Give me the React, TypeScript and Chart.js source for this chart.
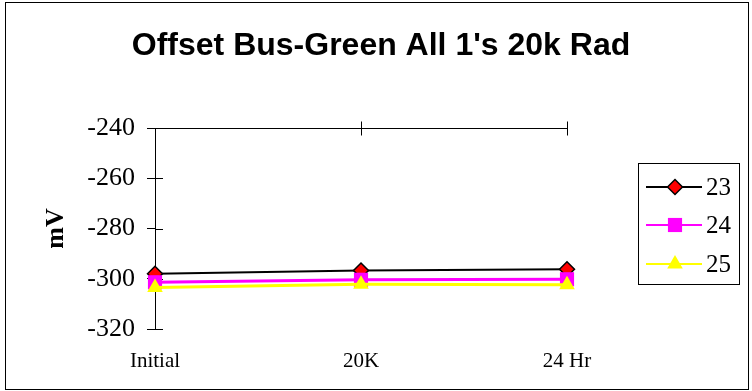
import { useEffect, useRef } from 'react';
import { Chart, registerables } from 'chart.js';
import { drawPoint } from 'chart.js/helpers';

Chart.register(...registerables);

const TITLE = "Offset Bus-Green All 1's 20k Rad";
const Y_TITLE = 'mV';
const CATEGORIES = ['Initial', '20K', '24 Hr'];
const SERIES_NAMES = ['23', '24', '25'];
const S23 = [-298.0, -296.7, -296.2];
const S24 = [-301.4, -300.4, -300.2];
const S25 = [-303.5, -302.2, -302.4];
const Y_MIN = -320;
const Y_MAX = -240;
const Y_STEP = 20;

const SERIF = '"Liberation Serif", "Times New Roman", serif';
const SANS = '"Liberation Sans", Arial, sans-serif';

const decor = {
  id: 'decor',
  beforeDraw(chart: any) {
    const ctx = chart.ctx;
    ctx.save();
    ctx.fillStyle = '#fff';
    ctx.fillRect(0, 0, chart.width, chart.height);
    ctx.restore();
  },
  beforeDatasetsDraw(chart: any) {
    const { ctx, chartArea: ca, scales } = chart;
    ctx.save();
    ctx.strokeStyle = '#000';
    ctx.lineWidth = 1;
    const top = Math.round(ca.top) + 0.5;
    ctx.beginPath();
    ctx.moveTo(ca.left, top);
    ctx.lineTo(ca.right, top);
    ctx.stroke();
    const xs = scales.x;
    for (let i = 1; i < xs.ticks.length; i++) {
      const x = Math.round(xs.getPixelForTick(i)) + 0.5;
      ctx.beginPath();
      ctx.moveTo(x, top - 7);
      ctx.lineTo(x, top + 7);
      ctx.stroke();
    }
    const ys = scales.y;
    const left = Math.round(ca.left);
    for (let i = 0; i < ys.ticks.length; i++) {
      const y = Math.round(ys.getPixelForTick(i)) + 0.5;
      ctx.beginPath();
      ctx.moveTo(left, y);
      ctx.lineTo(left + 8, y);
      ctx.stroke();
    }
    ctx.restore();
  },
  afterDraw(chart: any) {
    const { ctx } = chart;
    ctx.save();
    ctx.strokeStyle = '#000';
    ctx.lineWidth = 1;
    ctx.strokeRect(5.5, 2.5, 743, 387);
    ctx.fillStyle = '#000';
    ctx.font = `bold 32px ${SANS}`;
    ctx.textAlign = 'center';
    ctx.textBaseline = 'middle';
    ctx.fillText(TITLE, 381, 46);
    ctx.strokeRect(638.5, 163.5, 101, 121);
    const rows = [187, 225, 264];
    chart.data.datasets.forEach((ds: any, i: number) => {
      const y = rows[i];
      ctx.strokeStyle = ds.borderColor;
      ctx.lineWidth = 2;
      ctx.beginPath();
      ctx.moveTo(646, y);
      ctx.lineTo(702, y);
      ctx.stroke();
      ctx.fillStyle = ds.pointBackgroundColor;
      ctx.strokeStyle = ds.pointBorderColor;
      ctx.lineWidth = ds.pointBorderWidth;
      drawPoint(ctx, { pointStyle: ds.pointStyle, rotation: 0, radius: ds.pointRadius, borderWidth: ds.pointBorderWidth }, 675, y);
      ctx.fillStyle = '#000';
      ctx.font = `25px ${SERIF}`;
      ctx.textAlign = 'left';
      ctx.textBaseline = 'middle';
      ctx.fillText(ds.label, 706, y + 1);
    });
    ctx.restore();
  },
};

export default function App() {
  const ref = useRef<HTMLCanvasElement>(null);
  useEffect(() => {
    if (!ref.current) return;
    const chart = new Chart(ref.current, {
      type: 'line',
      data: {
        labels: CATEGORIES,
        datasets: [
          {
            label: SERIES_NAMES[0],
            data: S23,
            borderColor: '#000000',
            borderWidth: 2,
            pointStyle: 'rectRot',
            pointRadius: 7.5,
            pointBackgroundColor: '#ff0000',
            pointBorderColor: '#000000',
            pointBorderWidth: 1.5,
            order: 3,
            clip: false,
          },
          {
            label: SERIES_NAMES[1],
            data: S24,
            borderColor: '#ff00ff',
            borderWidth: 3,
            pointStyle: 'rect',
            pointRadius: 10,
            pointBackgroundColor: '#ff00ff',
            pointBorderColor: '#ff00ff',
            pointBorderWidth: 0,
            order: 2,
            clip: false,
          },
          {
            label: SERIES_NAMES[2],
            data: S25,
            borderColor: '#ffff00',
            borderWidth: 3,
            pointStyle: 'triangle',
            pointRadius: 9,
            pointBackgroundColor: '#ffff00',
            pointBorderColor: '#ffff00',
            pointBorderWidth: 0,
            order: 1,
            clip: false,
          },
        ] as any,
      },
      options: {
        animation: false,
        responsive: false,
        devicePixelRatio: 1,
        layout: { padding: { top: 128, left: 0, right: 185, bottom: 0 } },
        plugins: {
          legend: { display: false },
          title: { display: false },
          tooltip: { enabled: false },
        },
        scales: {
          x: {
            type: 'category',
            offset: false,
            border: { display: false },
            grid: { display: false, drawTicks: false },
            ticks: { color: '#000', font: { family: SERIF, size: 21 }, padding: 20, maxRotation: 0 },
            afterFit: (s: any) => { s.height = 62; },
          },
          y: {
            type: 'linear',
            min: Y_MIN,
            max: Y_MAX,
            border: { display: true, color: '#000', width: 1 },
            grid: { drawOnChartArea: false, drawTicks: true, tickLength: 8, color: '#000' },
            ticks: {
              stepSize: Y_STEP,
              color: '#000',
              font: { family: SERIF, size: 26 },
              padding: 12,
              callback: (v: any) => String(v),
            },
            title: { display: true, text: Y_TITLE, color: '#000', font: { family: SERIF, size: 26, weight: 'bold' }, padding: { top: 41, bottom: 0 } },
            afterFit: (s: any) => { s.width = 155; },
          },
        },
      } as any,
      plugins: [decor],
    });
    return () => chart.destroy();
  }, []);
  return (
    <div style={{ position: 'absolute', left: 0, top: 0, width: 752, height: 391 }}>
      <canvas ref={ref} width={752} height={391} style={{ display: 'block' }} />
    </div>
  );
}
